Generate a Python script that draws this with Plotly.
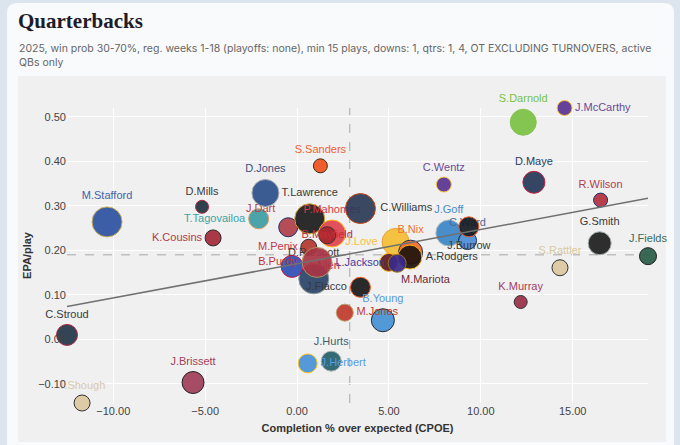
import numpy as np
import plotly.graph_objects as go

W, H = 680, 445
ML, MR, MT, MB = 67, 32, 108, 42

# QB, completion % over expected, EPA/play, plays (bubble size)
players = [
    "M.Stafford", "D.Mills", "K.Cousins", "T.Tagovailoa", "J.Dart", "M.Penix",
    "D.Jones", "T.Lawrence", "P.Mahomes", "B.Mayfield", "D.Prescott", "J.Allen",
    "B.Purdy", "J.Flacco", "S.Sanders", "C.Williams", "J.Love", "B.Nix",
    "A.Rodgers", "M.Mariota", "L.Jackson", "J.Goff", "C.Ward", "J.Burrow",
    "C.Wentz", "D.Maye", "S.Darnold", "J.McCarthy", "R.Wilson", "G.Smith",
    "J.Fields", "S.Rattler", "K.Murray", "B.Young", "M.Jones", "J.Hurts",
    "J.Herbert", "C.Stroud", "J.Brissett", "T.Shough",
]
cpoe = [
    -10.34, -5.17, -4.57, -2.09, -0.48, 0.64,
    -1.72, 0.69, 1.91, 1.64, 0.91, -0.27,
    1.09, 3.45, 1.27, 3.45, 5.36, 6.18,
    6.14, 4.99, 5.45, 8.26, 9.28, 9.35,
    7.99, 12.89, 12.31, 14.56, 16.52, 16.47,
    19.10, 14.31, 12.17, 4.67, 2.60, 1.86,
    0.58, -12.52, -5.66, -11.70,
]
epa_per_play = [
    0.264, 0.298, 0.228, 0.271, 0.252, 0.207,
    0.329, 0.271, 0.238, 0.234, 0.136, 0.164,
    0.173, 0.117, 0.390, 0.294, 0.219, 0.196,
    0.185, 0.173, 0.171, 0.239, 0.222, 0.253,
    0.348, 0.353, 0.488, 0.520, 0.313, 0.216,
    0.187, 0.161, 0.084, 0.043, 0.060, -0.049,
    -0.054, 0.010, -0.097, -0.143,
]
plays = [
    120, 52, 64, 80, 76, 64,
    108, 120, 108, 68, 120, 88,
    120, 80, 56, 120, 108, 96,
    96, 72, 72, 104, 72, 80,
    60, 88, 104, 60, 56, 92,
    68, 64, 52, 92, 68, 80,
    76, 84, 88, 64,
]

avg_cpoe = 2.87
avg_epa = 0.19
trend_intercept = 0.170
trend_slope = 0.0077

x_ticks = [-10, -5, 0, 5, 10, 15]
y_ticks = [-0.1, 0.0, 0.1, 0.2, 0.3, 0.4, 0.5]

# fill, outline, label colour, label position
qb_style = {
    "M.Stafford": ("#2d52a0", "#c9a94a", "#4262a8", "top center"),
    "D.Mills": ("#1e3340", "#a71930", "#3a3a3a", "top center"),
    "K.Cousins": ("#a52a3a", "#1a1a1a", "#b03a4a", "middle left"),
    "T.Tagovailoa": ("#3d9ea3", "#d9965a", "#3ba3a8", "middle left"),
    "J.Dart": ("#b0404b", "#0b2265", "#b8404e", "top left"),
    "M.Penix": ("#b5382f", "#222222", "#c0394a", "middle left"),
    "D.Jones": ("#2c4f8c", "#a2aaad", "#3b4f80", "top center"),
    "T.Lawrence": ("#1c1c1c", "#d7a22a", "#3a3a3a", "top center"),
    "P.Mahomes": ("#e0434f", "#ffb612", "#d83a48", "top center"),
    "B.Mayfield": ("#a8262e", "#34302b", "#c0303a", "middle center"),
    "D.Prescott": ("#2a4468", "#869397", "#3a3a3a", "top center"),
    "J.Allen": ("#2e4fb5", "#c60c30", "#c8283c", "middle right"),
    "B.Purdy": ("#a93545", "#b3995d", "#c0303a", "middle left"),
    "J.Flacco": ("#1a1a1a", "#fb4f14", "#3a3a3a", "middle left"),
    "S.Sanders": ("#f0521e", "#311d00", "#f06030", "top center"),
    "C.Williams": ("#2b3a57", "#c83803", "#3a3a3a", "middle right"),
    "J.Love": ("#f5bf32", "#e89a2b", "#f5c040", "middle left"),
    "B.Nix": ("#f26a2e", "#0a2343", "#f07030", "top center"),
    "A.Rodgers": ("#1f140d", "#ffb612", "#3a3a3a", "middle right"),
    "M.Mariota": ("#5e1a22", "#ffb612", "#6a2a3a", "bottom right"),
    "L.Jackson": ("#3b2a8a", "#9e7c0c", "#4a3a9a", "middle left"),
    "J.Goff": ("#3a86c8", "#b0b7bc", "#4a8ac8", "top center"),
    "C.Ward": ("#4b8fd6", "#0c2340", "#4b6a90", "top center"),
    "J.Burrow": ("#151a22", "#fb4f14", "#3a3a3a", "bottom center"),
    "C.Wentz": ("#5a3390", "#ffc62f", "#6a4a9a", "top center"),
    "D.Maye": ("#26385a", "#c60c30", "#2a3c5c", "top center"),
    "S.Darnold": ("#7bc144", "#7bc144", "#7ac143", "top center"),
    "J.McCarthy": ("#5a3390", "#ffc62f", "#6a4a9a", "middle right"),
    "R.Wilson": ("#b3303e", "#0b2265", "#b3404e", "top center"),
    "G.Smith": ("#1e1e1e", "#a5acaf", "#3a3a3a", "top center"),
    "J.Fields": ("#2a5e48", "#111111", "#3d6b58", "top center"),
    "S.Rattler": ("#dcc8a0", "#222222", "#d8c8a0", "top center"),
    "K.Murray": ("#9b2f4a", "#222222", "#a04060", "top center"),
    "B.Young": ("#4692d6", "#101820", "#5a9ad8", "top center"),
    "M.Jones": ("#c13a2c", "#b3995d", "#c0392b", "middle right"),
    "J.Hurts": ("#25616b", "#a5acaf", "#3d6070", "top center"),
    "J.Herbert": ("#4a92d8", "#ffc20e", "#5a9ae0", "middle right"),
    "C.Stroud": ("#22364a", "#a71930", "#3a3a3a", "top center"),
    "J.Brissett": ("#a0405a", "#111111", "#a0405a", "top center"),
    "T.Shough": ("#dcc8a0", "#222222", "#dcc8a8", "top center"),
}


def px_x(px):
    return (px - ML) / (W - ML - MR)


def px_y(py):
    return (H - MB - py) / (H - MT - MB)


def rounded_rect(x0, y0, x1, y1, r):
    # path in paper coords from pixel corners
    rx = r / (W - ML - MR)
    ry = r / (H - MT - MB)
    a, b, c, d = px_x(x0), px_x(x1), px_y(y1), px_y(y0)
    return (f"M {a + rx},{d} L {b - rx},{d} Q {b},{d} {b},{d - ry} "
            f"L {b},{c + ry} Q {b},{c} {b - rx},{c} L {a + rx},{c} "
            f"Q {a},{c} {a},{c + ry} L {a},{d - ry} Q {a},{d} {a + rx},{d} Z")


fig = go.Figure()

for i, name in enumerate(players):
    fill, outline, label_col, pos = qb_style[name]
    fig.add_trace(go.Scatter(
        x=[cpoe[i]], y=[epa_per_play[i]],
        mode="markers+text",
        text=[name],
        textposition=pos,
        textfont=dict(family="Liberation Sans, Arial", size=11, color=label_col),
        marker=dict(size=[plays[i]], sizeref=4, sizemode="diameter",
                    color=fill, opacity=0.92, line=dict(color=outline, width=1)),
        cliponaxis=False,
        showlegend=False,
        hoverinfo="skip",
    ))

x_line = np.array([min(cpoe), max(cpoe)])
fig.add_trace(go.Scatter(
    x=x_line, y=trend_intercept + trend_slope * x_line,
    mode="lines", line=dict(color="#707070", width=1.5),
    showlegend=False, hoverinfo="skip",
))

shapes = [
    dict(type="path", xref="paper", yref="paper", path=rounded_rect(7, 3, 674, 470, 10),
         fillcolor="#f9fafb", line=dict(width=0), layer="below"),
    dict(type="rect", xref="paper", yref="paper",
         x0=px_x(18), x1=px_x(666), y0=px_y(442), y1=px_y(76),
         fillcolor="#f0f0f0", line=dict(width=0), layer="below"),
    dict(type="line", xref="x", yref="paper", x0=avg_cpoe, x1=avg_cpoe, y0=0, y1=1,
         line=dict(color="#a8a8a8", width=1, dash="dash"), layer="between"),
    dict(type="line", xref="paper", yref="y", x0=0, x1=1, y0=avg_epa, y1=avg_epa,
         line=dict(color="#a8a8a8", width=1, dash="dash"), layer="between"),
]

fig.update_layout(
    width=W, height=H,
    margin=dict(l=ML, r=MR, t=MT, b=MB, autoexpand=False),
    paper_bgcolor="#dce5ee",
    plot_bgcolor="#f0f0f0",
    shapes=shapes,
    title=dict(text="<b>Quarterbacks</b>", xref="container", yref="container",
               x=18 / W, y=1 - 21 / H, xanchor="left", yanchor="middle",
               font=dict(family="Liberation Serif", size=21, color="#1c1c2a")),
    annotations=[dict(
        text="2025, win prob 30-70%, reg. weeks 1-18 (playoffs: none), min 15 plays, "
             "downs: 1, qtrs: 1, 4, OT EXCLUDING TURNOVERS, active<br>QBs only",
        xref="paper", yref="paper", x=px_x(17), y=px_y(40),
        xanchor="left", yanchor="top", align="left", showarrow=False,
        font=dict(family="Inter", size=10.5, color="#666666"),
    )],
    xaxis=dict(
        range=[min(cpoe), max(cpoe)], tickvals=x_ticks, tickformat=".2f",
        showgrid=True, gridcolor="#ffffff", gridwidth=1, zeroline=False,
        showline=False, ticks="", automargin=False,
        tickfont=dict(family="Liberation Sans, Arial", size=11, color="#444444"),
        title=dict(text="<b>Completion % over expected (CPOE)</b>", standoff=8,
                   font=dict(family="Liberation Sans, Arial", size=11, color="#333333")),
    ),
    yaxis=dict(
        range=[min(epa_per_play), max(epa_per_play)], tickvals=y_ticks, tickformat=".2f",
        showgrid=True, gridcolor="#ffffff", gridwidth=1, zeroline=False,
        showline=False, ticks="", automargin=False,
        tickfont=dict(family="Liberation Sans, Arial", size=11, color="#444444"),
        title=dict(text="<b>EPA/play</b>", standoff=4,
                   font=dict(family="Liberation Sans, Arial", size=11, color="#333333")),
    ),
)

# the page body has a default 8px margin; drop it so the figure sits at 0,0
fig.write_html("out.html", config={"displayModeBar": False},
               post_script="document.body.style.margin = '0px';")
